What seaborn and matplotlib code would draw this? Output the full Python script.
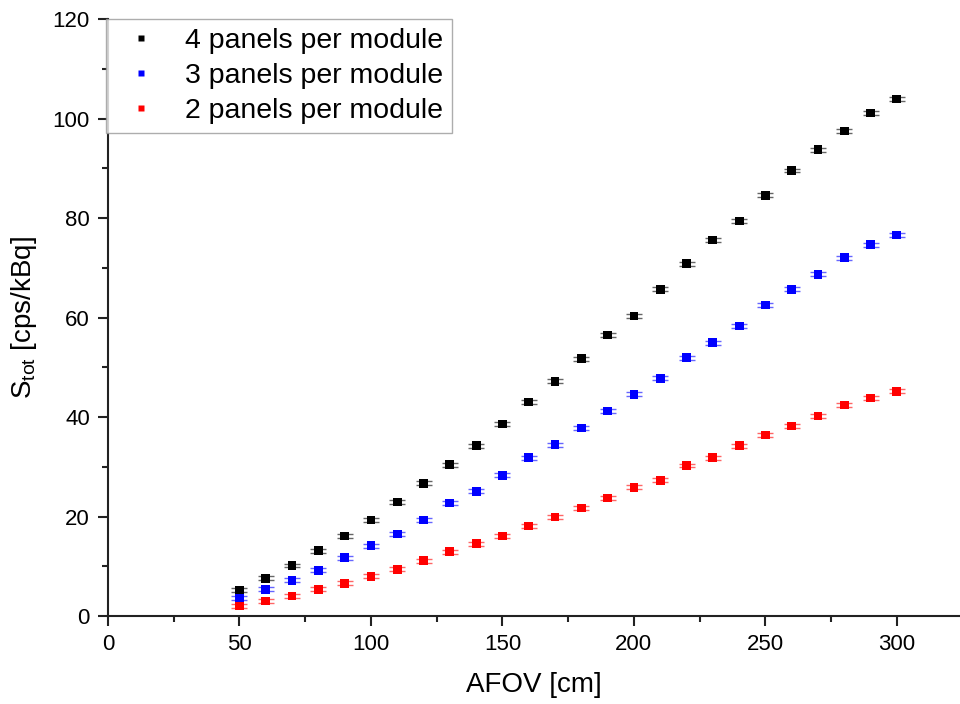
import matplotlib
matplotlib.use("Agg")
import matplotlib.pyplot as plt
import seaborn as sns
import numpy as np
import pandas as pd
from matplotlib.ticker import MultipleLocator

afov = [50, 60, 70, 80, 90, 100, 110, 120, 130, 140, 150, 160, 170, 180, 190,
        200, 210, 220, 230, 240, 250, 260, 270, 280, 290, 300]
s4 = [5.2, 7.6, 10.2, 13.1, 16.1, 19.3, 22.9, 26.7, 30.4, 34.2, 38.6, 43.0, 47.2,
      51.7, 56.5, 60.3, 65.7, 70.8, 75.6, 79.4, 84.6, 89.6, 93.7, 97.5, 101.1, 103.9]
s3 = [3.6, 5.4, 7.2, 9.2, 11.7, 14.1, 16.5, 19.3, 22.7, 25.1, 28.3, 31.8, 34.4,
      37.8, 41.2, 44.6, 47.8, 51.9, 54.9, 58.3, 62.5, 65.7, 68.7, 72.0, 74.6, 76.6]
s2 = [2.0, 3.0, 4.0, 5.4, 6.6, 8.0, 9.4, 11.1, 12.9, 14.5, 16.1, 18.1, 19.9,
      21.7, 23.7, 25.9, 27.3, 30.2, 31.8, 34.2, 36.4, 38.2, 40.2, 42.4, 43.8, 45.2]
labels = ["4 panels per module", "3 panels per module", "2 panels per module"]
colors = ["#000000", "#0000ff", "#ff0000"]

df = pd.concat([
    pd.DataFrame({"AFOV": afov, "S": s, "series": lab})
    for s, lab in zip([s4, s3, s2], labels)
])

sns.set_theme(style="ticks")
plt.rcParams["font.family"] = ["Liberation Sans", "DejaVu Sans"]
plt.rcParams["text.color"] = "black"

fig = plt.figure(figsize=(9.6, 7.04), dpi=100)
ax = fig.add_axes([0.1125, 0.125, 0.8875, 0.848])

for s, lab, c in zip([s4, s3, s2], labels, colors):
    ax.errorbar(afov, s, yerr=0.35, fmt="none", ecolor=c, elinewidth=0.8,
                capsize=5.5, capthick=1.0, alpha=0.6, zorder=2)

sns.scatterplot(data=df, x="AFOV", y="S", hue="series", palette=colors,
                marker="s", s=40, edgecolor="none", ax=ax, zorder=3)

ax.set_xlim(0, 324)
ax.set_ylim(0, 120)
ax.xaxis.set_major_locator(MultipleLocator(50))
ax.xaxis.set_minor_locator(MultipleLocator(25))
ax.yaxis.set_major_locator(MultipleLocator(20))
ax.yaxis.set_minor_locator(MultipleLocator(10))
ax.tick_params(which="major", direction="out", length=7, width=1.5, labelsize=16,
               colors="#222222", labelcolor="black", pad=6)
ax.tick_params(which="minor", direction="out", length=4, width=1.5, colors="#222222")
for sp in ["top", "right"]:
    ax.spines[sp].set_visible(False)
for sp in ["left", "bottom"]:
    ax.spines[sp].set_linewidth(1.5)
    ax.spines[sp].set_color("#222222")

ax.set_xlabel("AFOV [cm]", fontsize=20, labelpad=12, color="black")
ax.set_ylabel("S$_{\\mathregular{tot}}$ [cps/kBq]", fontsize=20, labelpad=10, color="black")

leg = ax.legend(loc="upper left", bbox_to_anchor=(-0.002, 1.0), fontsize=20.5,
                frameon=True, fancybox=False, edgecolor="#999999",
                handletextpad=0.65, markerscale=0.6, borderpad=0.32,
                labelspacing=0.32, handlelength=1.8, borderaxespad=0.0, title=None)
leg.get_frame().set_linewidth(1.0)
for t in leg.get_texts():
    t.set_color("black")

fig.savefig("out.png", dpi=100)
